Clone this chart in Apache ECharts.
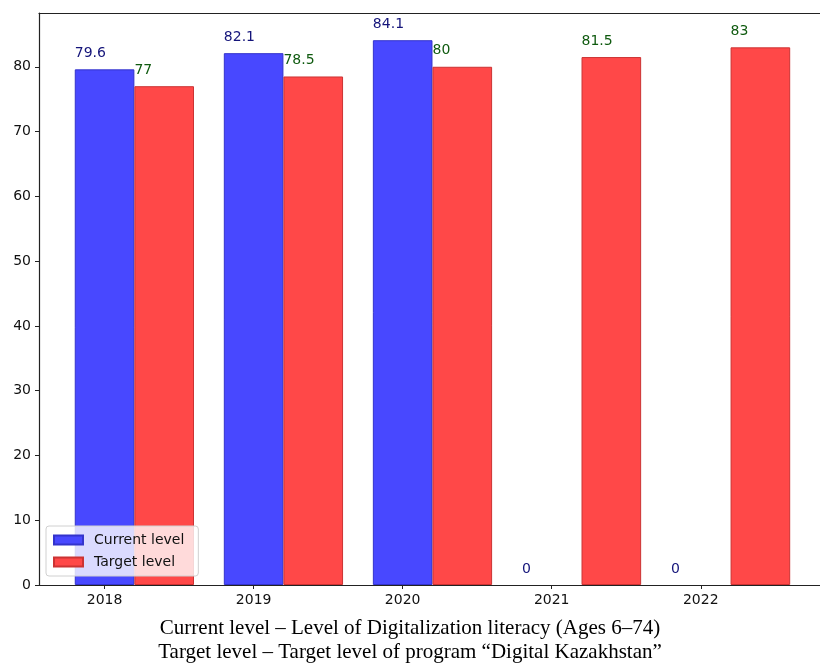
<!DOCTYPE html>
<html>
<head>
<meta charset="utf-8">
<title>Digitalization literacy</title>
<script src="https://cdn.jsdelivr.net/npm/echarts@6/dist/echarts.min.js"></script>
<style>
  html, body { margin: 0; padding: 0; background: #fff; }
  #chart { width: 820px; height: 669px; }
</style>
</head>
<body>
<div id="chart"></div>
<script>
// Years on the x axis
const years = [2018, 2019, 2020, 2021, 2022];
// Current level of digital literacy, ages 6–74 (%)
const currentLevel = [79.6, 82.1, 84.1, 0, 0];
// Target level of the "Digital Kazakhstan" programme (%)
const targetLevel = [77, 78.5, 80, 81.5, 83];
// Y tick values
const yTicks = [0, 10, 20, 30, 40, 50, 60, 70, 80];
// Caption lines under the chart
const captionLines = [
  'Current level – Level of Digitalization literacy (Ages 6–74)',
  'Target level – Target level of program “Digital Kazakhstan”'
];

// Each bar is 0.4 year wide; the target bar sits just right of the current one
const BAR_W = 0.4;
const X_MIN = 2017.56, X_MAX = 2022.80;
const GRID_LEFT = 39;
const GRID_WIDTH = 820 - GRID_LEFT;
const barPx = BAR_W * GRID_WIDTH / (X_MAX - X_MIN);

const chart = echarts.init(document.getElementById('chart'), null, { renderer: 'canvas' });

const labelCommon = {
  show: true,
  position: [0, -9],
  align: 'left',
  verticalAlign: 'bottom',
  fontFamily: 'DejaVu Sans',
  fontSize: 14
};

// Bars with no value get no outline so nothing shows on the baseline
const toItems = (vals, shift) => years.map((y, i) => ({
  value: [y + shift, vals[i]],
  itemStyle: vals[i] === 0 ? { borderWidth: 0 } : undefined
}));

chart.setOption({
  animation: false,
  backgroundColor: '#ffffff',
  grid: {
    left: GRID_LEFT,
    top: 13,
    right: 0,
    bottom: 84
  },
  legend: {
    left: 46,
    top: 526,
    orient: 'vertical',
    icon: 'rect',
    itemWidth: 29,
    itemHeight: 9,
    itemGap: 8,
    padding: [7, 14, 7, 7],
    backgroundColor: 'rgba(255,255,255,0.8)',
    borderColor: '#d0d0d0',
    borderWidth: 1,
    borderRadius: 3,
    textStyle: { fontFamily: 'DejaVu Sans', fontSize: 14, color: '#111', padding: [0, 0, 0, 6] },
    data: ['Current level', 'Target level']
  },
  xAxis: [
    {
      type: 'value',
      min: X_MIN,
      max: X_MAX,
      splitLine: { show: false },
      axisLine: { show: true, lineStyle: { color: '#222', width: 1.2 } },
      axisTick: { show: true, length: 4, customValues: years, lineStyle: { color: '#222' } },
      axisLabel: {
        customValues: years,
        formatter: v => String(v),
        margin: 8,
        fontFamily: 'DejaVu Sans',
        fontSize: 14,
        color: '#111'
      }
    },
    {
      // top frame line only
      type: 'value',
      position: 'top',
      min: X_MIN,
      max: X_MAX,
      splitLine: { show: false },
      axisLine: { show: true, lineStyle: { color: '#222', width: 1.2 } },
      axisTick: { show: false },
      axisLabel: { show: false }
    }
  ],
  yAxis: {
    type: 'value',
    min: 0,
    max: 88.3,
    splitLine: { show: false },
    axisLine: { show: true, lineStyle: { color: '#222', width: 1.2 } },
    axisTick: { show: true, length: 4, customValues: yTicks, lineStyle: { color: '#222' } },
    axisLabel: {
      customValues: yTicks,
      margin: 8,
      fontFamily: 'DejaVu Sans',
      fontSize: 14,
      color: '#111'
    }
  },
  series: [
    {
      name: 'Current level',
      type: 'bar',
      barWidth: barPx,
      barGap: '-100%',
      data: toItems(currentLevel, 0),
      itemStyle: { color: '#4848ff', borderColor: '#3333cc', borderWidth: 1 },
      label: Object.assign({}, labelCommon, { color: '#14147a', formatter: p => String(p.value[1]) })
    },
    {
      name: 'Target level',
      type: 'bar',
      barWidth: barPx,
      barGap: '-100%',
      data: toItems(targetLevel, BAR_W),
      itemStyle: { color: '#ff4848', borderColor: '#cc3333', borderWidth: 1 },
      label: Object.assign({}, labelCommon, { color: '#0f5a0f', formatter: p => String(p.value[1]) })
    }
  ],
  graphic: captionLines.map((t, i) => ({
    type: 'text',
    x: 410,
    y: 628 + i * 24,
    style: {
      text: t,
      font: '21px "Liberation Serif", "Times New Roman", serif',
      fill: '#000',
      textAlign: 'center',
      textVerticalAlign: 'middle'
    }
  }))
});
</script>
</body>
</html>
